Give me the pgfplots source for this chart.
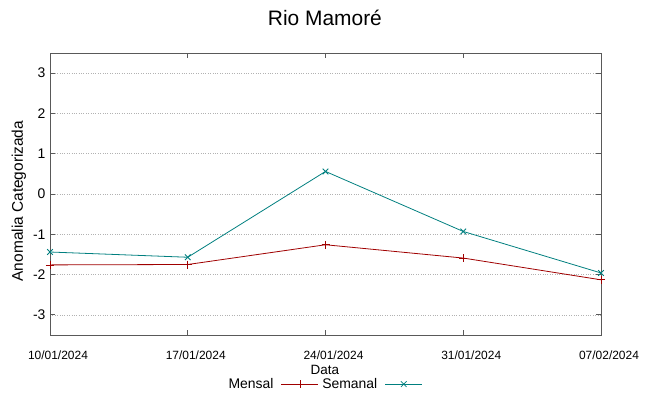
\documentclass[border=0pt]{standalone}
\usepackage{fontspec}
\setmainfont{Liberation Sans}
\usepackage{pgfplots}
\pgfplotsset{compat=1.18}
\definecolor{mred}{HTML}{A00000}
\definecolor{mteal}{HTML}{007F7F}
\begin{document}
\begin{tikzpicture}
\path[use as bounding box] (0,0) rectangle (649bp,396bp);
\begin{axis}[
  at={(50bp,61bp)}, anchor=south west,
  scale only axis, width=551bp, height=282bp,
  xmin=0, xmax=28, ymin=-3.5, ymax=3.5,
  xtick={0,7,14,21,28},
  xticklabels={10/01/2024,17/01/2024,24/01/2024,31/01/2024,07/02/2024},
  ytick={-3,-2,-1,0,1,2,3},
  /pgf/number format/assume math mode=true,
  tick align=inside, major tick length=5bp,
  ymajorgrids,
  grid style={dotted, gray!60, line width=0.7pt},
  axis line style={black!65, line width=0.9pt},
  tick style={black!65, line width=0.8pt},
  xticklabel style={font=\fontsize{12}{12}\selectfont, xshift=8bp, yshift=-12bp},
  yticklabel style={font=\fontsize{14}{14}\selectfont, xshift=-1bp},
  title={Rio Mamoré},
  title style={font=\fontsize{21}{21}\selectfont, at={(axis description cs:0.499,1.102)}, anchor=center},
  xlabel={Data},
  xlabel style={font=\fontsize{13.5}{13.5}\selectfont, at={(axis description cs:0.499,-0.124)}, anchor=center},
  ylabel={Anomalia Categorizada},
  ylabel style={font=\fontsize{15.5}{15.5}\selectfont, at={(axis description cs:-0.0563,0.475)}, anchor=center, rotate=0},
  legend plot pos=right,
  legend columns=2,
  legend style={at={(axis description cs:0.497,-0.174)}, anchor=center, draw=none, fill=none,
    font=\fontsize{14}{14}\selectfont, inner sep=0pt,
    nodes={inner xsep=3.5bp, inner ysep=0pt},
    /tikz/every odd column/.style={column sep=4bp}},
  legend image code/.code={\draw[#1, mark repeat=2, mark phase=2] plot coordinates {(0bp,0bp) (18.5bp,0bp) (37bp,0bp)};},
]
\addplot[color=mred, line width=0.8pt, mark=+, mark size=4bp, mark options={line width=0.8pt}]
  coordinates {(0,-1.76) (7,-1.75) (14,-1.26) (21,-1.59) (28,-2.13)};
\addlegendentry{Mensal}
\addplot[color=mteal, line width=0.8pt, mark=x, mark size=4bp, mark options={line width=0.8pt}]
  coordinates {(0,-1.44) (7,-1.57) (14,0.56) (21,-0.93) (28,-1.96)};
\addlegendentry{Semanal}
\end{axis}
\end{tikzpicture}
\end{document}
